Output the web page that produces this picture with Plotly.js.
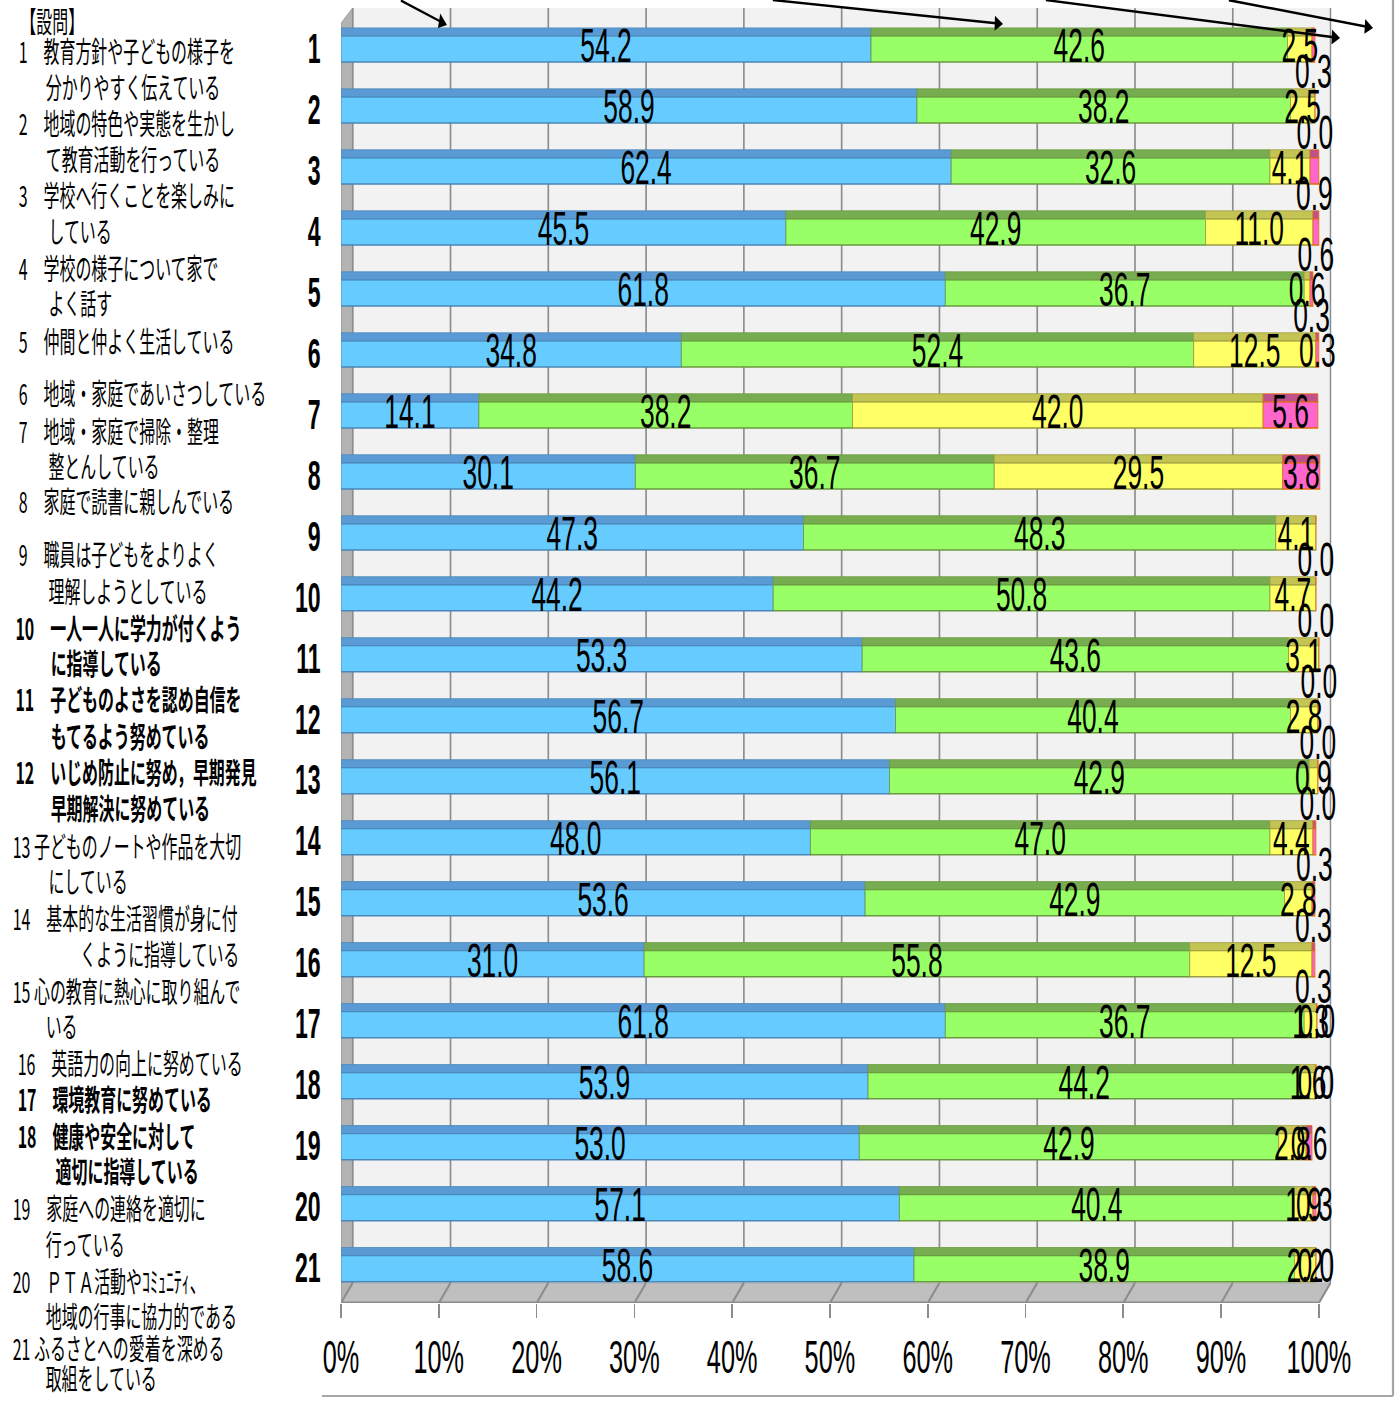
<!DOCTYPE html>
<html>
<head>
<meta charset="utf-8">
<script src="https://cdn.plot.ly/plotly-3.0.1.min.js"></script>
<style>
html,body{margin:0;padding:0;background:#fff;overflow:hidden;}
#wrap{width:1399px;height:1401px;overflow:hidden;position:relative;}
#chart{position:absolute;left:0;top:0;transform-origin:0 0;}
</style>
</head>
<body>
<div id="wrap"><div id="chart"></div></div>
<script>
// ---------------- data ----------------
const rowLabels = ['1','2','3','4','5','6','7','8','9','10','11','12','13','14','15','16','17','18','19','20','21'];
const blueVals   = [54.2,58.9,62.4,45.5,61.8,34.8,14.1,30.1,47.3,44.2,53.3,56.7,56.1,48.0,53.6,31.0,61.8,53.9,53.0,57.1,58.6];
const greenVals  = [42.6,38.2,32.6,42.9,36.7,52.4,38.2,36.7,48.3,50.8,43.6,40.4,42.9,47.0,42.9,55.8,36.7,44.2,42.9,40.4,38.9];
const yellowVals = [2.5,2.5,4.1,11.0,0.6,12.5,42.0,29.5,4.1,4.7,3.1,2.8,0.9,4.4,2.8,12.5,1.3,1.6,2.8,1.9,2.2];
const pinkVals   = [0.3,0.0,0.9,0.6,0.3,0.3,5.6,3.8,0.0,0.0,0.0,0.0,0.0,0.3,0.3,0.3,0.0,0.0,0.6,0.3,0.0];
const xTickVals  = [0,10,20,30,40,50,60,70,80,90,100];
const xTickText  = ['0%','10%','20%','30%','40%','50%','60%','70%','80%','90%','100%'];
const questionLines = [
  '【設問】',
  '1　教育方針や子どもの様子を','分かりやすく伝えている',
  '2　地域の特色や実態を生かし','て教育活動を行っている',
  '3　学校へ行くことを楽しみに','している',
  '4　学校の様子について家で','よく話す',
  '5　仲間と仲よく生活している',
  '6　地域・家庭であいさつしている',
  '7　地域・家庭で掃除・整理','整とんしている',
  '8　家庭で読書に親しんでいる',
  '9　職員は子どもをよりよく','理解しようとしている',
  '10　一人一人に学力が付くよう','に指導している',
  '11　子どものよさを認め自信を','もてるよう努めている',
  '12　いじめ防止に努め，早期発見','早期解決に努めている',
  '13 子どものノートや作品を大切','にしている',
  '14　基本的な生活習慣が身に付','くように指導している',
  '15 心の教育に熱心に取り組んで','いる',
  '16　英語力の向上に努めている',
  '17　環境教育に努めている',
  '18　健康や安全に対して','適切に指導している',
  '19　家庭への連絡を適切に','行っている',
  '20　ＰＴＡ活動やｺﾐｭﾆﾃｨ、','地域の行事に協力的である',
  '21 ふるさとへの愛着を深める','取組をしている'
];
const questionBold = [0,0,0,0,0,0,0,0,0,0,0,0,0,0,0,0,1,1,1,1,1,1,0,0,0,0,0,0,0,1,1,1,0,0,0,0,0,0];

// ---------------- layout helpers (positions / styles) ----------------
const S = 0.55;                       // horizontal squeeze of the whole drawing
const W = Math.round(1399 / S), H = 1401;
const M = {l: 620, r: 123, t: 8, b: 98};
const plotW = W - M.l - M.r, plotH = H - M.t - M.b;
const pxX = rx => (rx / S - M.l) / plotW;
const pyY = ry => (H - M.b - ry) / plotH;
const qLineY = [20,50,86,122,158,194,230,267,302,340,392,430,465,500,553,590,627,662,698,735,771,807,845,880,917,953,990,1025,1062,1098,1135,1170,1207,1243,1280,1315,1347,1377];
const qLineX = [20,18,45,18,45,18,48,18,48,18,18,18,48,18,18,48,15,50,15,50,15,50,12,48,12,80,12,45,17,17,17,55,12,45,12,45,12,45];
const pinkBelow = [1,1,1,1,1,0,0,0,1,1,1,1,1,1,1,1,0,0,0,0,0];
const YTOP = 0.344, YBOT = 21.58, YBACK = 21.25, OFF = 1.2;

const rows = rowLabels.map((_, i) => i + 1);
const series = [
  {v: blueVals,   face: '#66ccff', top: '#5b9bd5', line: '#4a86b8'},
  {v: greenVals,  face: '#99ff66', top: '#77ad50', line: '#6a9a40'},
  {v: yellowVals, face: '#ffff66', top: '#c4c455', line: '#9c9c40'},
  {v: pinkVals,   face: '#ff66cc', top: '#c0508c', line: '#e46c0a'}
];
const traces = [];
let base = rows.map(() => 0);
const labelFont = {family: 'Liberation Sans, Arial, sans-serif', size: 48, color: '#000'};
series.forEach((s, si) => {
  const b = base.slice();
  traces.push({type: 'bar', orientation: 'h', y: rows, x: s.v, base: b, width: 0.43, offset: -0.2,
    marker: {color: s.face, line: {color: s.line, width: 1.5}}, hoverinfo: 'skip'});
  traces.push({type: 'bar', orientation: 'h', y: rows, x: s.v, base: b, width: 0.13, offset: -0.33,
    marker: {color: s.top, line: {color: s.line, width: 1}}, hoverinfo: 'skip'});
  const lx = s.v.map((v, i) => b[i] + v / 2);
  const ly = rows.map((r, i) => (si === 3 && pinkBelow[i]) ? r + 0.46 : r + 0.04);
  traces.push({type: 'scatter', mode: 'text', x: lx, y: ly, text: s.v.map(v => v.toFixed(1)),
    textposition: 'middle center', textfont: labelFont, cliponaxis: false, hoverinfo: 'skip'});
  base = base.map((x, i) => x + s.v[i]);
});

// ---------------- decoration shapes ----------------
const shapes = [];
shapes.push({type: 'rect', xref: 'x', yref: 'y', x0: OFF, x1: 100 + OFF, y0: YTOP, y1: YBACK,
  fillcolor: '#f2f2f2', line: {width: 0}, layer: 'below'});
shapes.push({type: 'path', xref: 'x', yref: 'y', layer: 'below',
  path: `M 0 ${YBOT} L 100 ${YBOT} L ${100 + OFF} ${YBACK} L ${OFF} ${YBACK} Z`,
  fillcolor: '#bfbfbf', line: {color: '#a6a6a6', width: 1}});
shapes.push({type: 'path', xref: 'x', yref: 'y', layer: 'below',
  path: `M 0 ${YTOP + 0.25} L ${OFF} ${YTOP} L ${OFF} ${YBACK} L 0 ${YBOT} Z`,
  fillcolor: '#b3b3b3', line: {color: '#8c8c8c', width: 1}});
xTickVals.forEach(v => {
  shapes.push({type: 'line', xref: 'x', yref: 'y', x0: v + OFF, x1: v + OFF, y0: YTOP, y1: YBACK,
    line: {color: '#8c8c8c', width: 3}, layer: 'below'});
  shapes.push({type: 'line', xref: 'x', yref: 'y', x0: v, x1: v + OFF, y0: YBOT, y1: YBACK,
    line: {color: '#8c8c8c', width: 3}, layer: 'below'});
});
shapes.push({type: 'line', xref: 'x', yref: 'y', x0: 0, x1: 100, y0: YBOT, y1: YBOT,
  line: {color: '#8c8c8c', width: 3}});
// outer frame
shapes.push({type: 'line', xref: 'paper', yref: 'paper', x0: pxX(1393), x1: pxX(1393), y0: pyY(0), y1: pyY(1396),
  line: {color: '#a6a6a6', width: 4}});
shapes.push({type: 'line', xref: 'paper', yref: 'paper', x0: pxX(322), x1: pxX(1393), y0: pyY(1396), y1: pyY(1396),
  line: {color: '#a6a6a6', width: 2}});

// ---------------- annotations ----------------
const annotations = [];
questionLines.forEach((t, i) => {
  annotations.push({xref: 'paper', yref: 'paper', x: pxX(qLineX[i]), y: pyY(qLineY[i]),
    xanchor: 'left', yanchor: 'middle', showarrow: false, borderpad: 0,
    text: questionBold[i] ? '<b>' + t + '</b>' : t,
    font: {family: 'Noto Sans CJK JP, sans-serif', size: 29, color: '#000'}});
});
const arrows = [
  {h: [447, 25], t: [400, -3]},
  {h: [1003, 24], t: [772, -3]},
  {h: [1340, 38], t: [1045, -3]},
  {h: [1373, 28], t: [1228, -3]}
];
arrows.forEach(a => {
  annotations.push({xref: 'paper', yref: 'paper', x: pxX(a.h[0]), y: pyY(a.h[1]), text: '',
    showarrow: true, arrowhead: 2, arrowsize: 1.2, arrowwidth: 2.5, arrowcolor: '#000',
    axref: 'pixel', ayref: 'pixel', ax: (a.t[0] - a.h[0]) / S, ay: a.t[1] - a.h[1], standoff: 0});
});

const layout = {
  width: W, height: H, margin: M,
  paper_bgcolor: '#ffffff', plot_bgcolor: 'rgba(0,0,0,0)',
  barmode: 'overlay', showlegend: false, hovermode: false,
  xaxis: {range: [0, 101.3], tickvals: xTickVals, ticktext: xTickText, showgrid: false, zeroline: false,
    showline: false, ticks: 'outside', ticklen: 14, tickwidth: 3, tickcolor: '#8c8c8c',
    ticklabelstandoff: 0,
    tickfont: {family: 'Liberation Sans, Arial, sans-serif', size: 46, color: '#000'}, fixedrange: true},
  yaxis: {range: [YBOT, YTOP], tickvals: rows, ticktext: rowLabels, showgrid: false, zeroline: false,
    showline: false, ticks: '', ticklabelstandoff: 36,
    tickfont: {family: 'Liberation Sans, Arial, sans-serif', size: 42, color: '#000', weight: 'bold'}, fixedrange: true},
  shapes: shapes, annotations: annotations
};
const el = document.getElementById('chart');
el.style.width = W + 'px'; el.style.height = H + 'px';
el.style.transform = 'scaleX(' + S + ')';
Plotly.newPlot(el, traces, layout, {staticPlot: true, displayModeBar: false});
</script>
</body>
</html>
